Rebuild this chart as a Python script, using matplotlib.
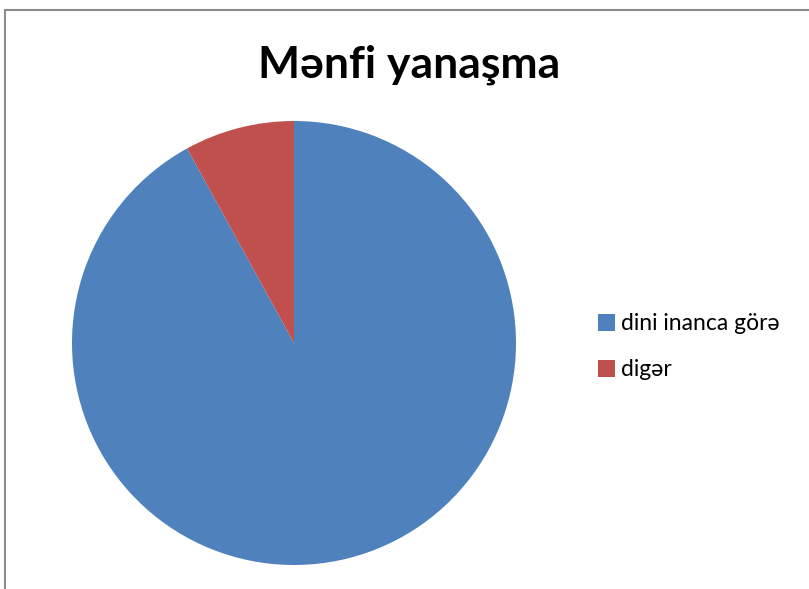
import matplotlib
matplotlib.use('Agg')
import matplotlib.pyplot as plt
from matplotlib.lines import Line2D
from matplotlib.patches import Patch

# data
labels = ['dini inanca görə', 'digər']
values = [92, 8]
colors = ['#4F81BD', '#C0504D']

W, H = 809, 589
fig = plt.figure(figsize=(W / 100, H / 100), dpi=100)
fig.patch.set_facecolor('white')

# pie area (pixels -> figure fraction)
cx, cy, r = 294, 343, 222
ax = fig.add_axes([(cx - r) / W, (H - cy - r) / H, 2 * r / W, 2 * r / H])
ax.pie(values, colors=colors, startangle=90, counterclock=False,
       radius=1, wedgeprops=dict(linewidth=0))
ax.set_xlim(-1, 1)
ax.set_ylim(-1, 1)
ax.set_aspect('auto')
ax.axis('off')

# title
fig.text(409 / W, 1 - 65 / H, 'Mənfi yanaşma', ha='center', va='center',
         fontsize=32, fontweight='bold', family=['Lato', 'DejaVu Sans'])

# legend
handles = [Patch(facecolor=c, edgecolor='none') for c in colors]
fig.legend(handles, labels, loc='upper left',
           bbox_to_anchor=(589 / W, 1 - 304 / H),
           frameon=False, prop={'family': ['Lato', 'DejaVu Sans'], 'size': 16.5},
           handlelength=0.75, handleheight=0.75, handletextpad=0.25,
           labelspacing=1.1, borderaxespad=0)

# chart border (top and left edges visible)
fig.add_artist(Line2D([5 / W, 1], [1 - 10 / H, 1 - 10 / H], color='#8c8c8c', lw=1.5))
fig.add_artist(Line2D([5 / W, 5 / W], [0, 1 - 10 / H], color='#8c8c8c', lw=1.5))

plt.savefig('out.png', dpi=100)
